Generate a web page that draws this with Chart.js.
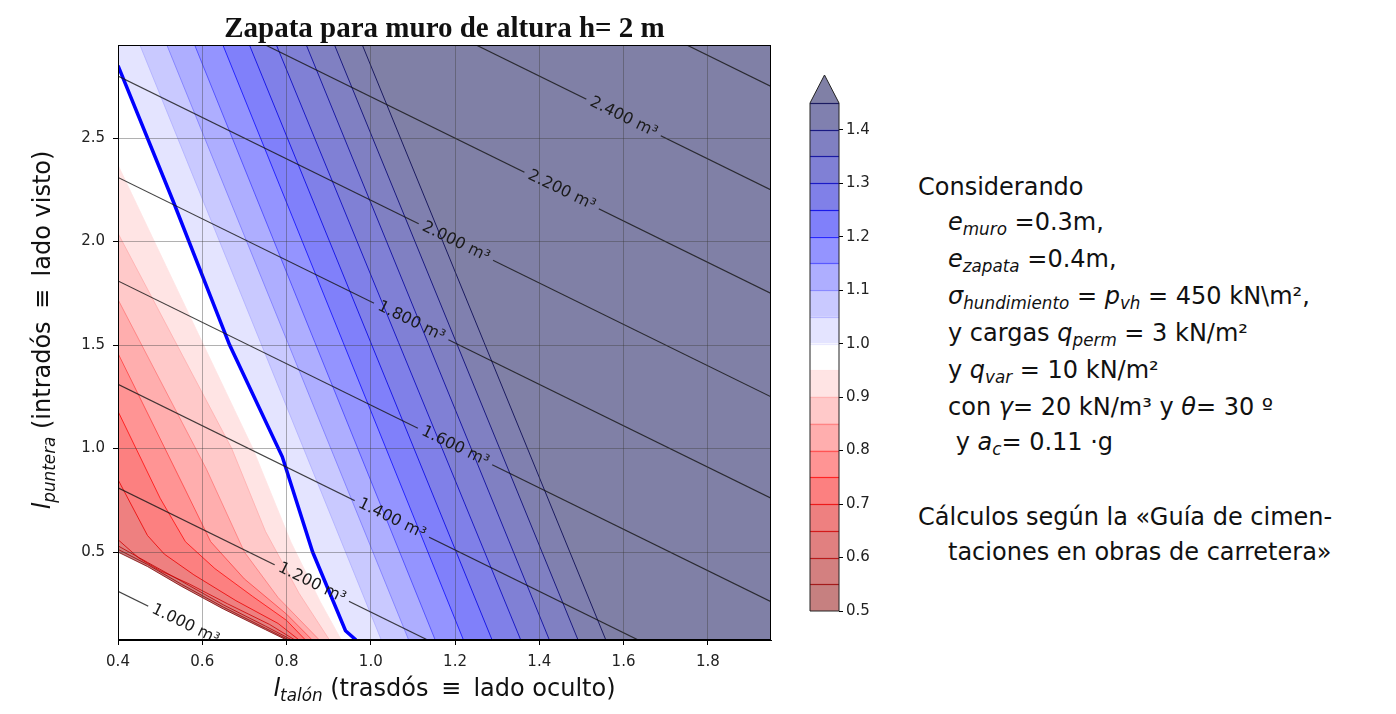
<!DOCTYPE html>
<html lang="es">
<head>
<meta charset="utf-8">
<title>Zapata para muro de altura h= 2 m</title>
<script src="https://cdn.jsdelivr.net/npm/chart.js@4.4.1/dist/chart.umd.min.js"></script>
<style>
  body { margin: 0; background: #fff; }
  #lienzo { position: relative; width: 1396px; height: 714px; overflow: hidden; font-family: 'DejaVu Sans', sans-serif; color: #111; }
  canvas { position: absolute; }
  .titulo { position: absolute; left: 118px; width: 653px; top: 13px; text-align: center; font: bold 29px 'Liberation Serif', serif; line-height: 29px; }
  .ejeX { position: absolute; left: 118px; width: 653px; top: 676px; text-align: center; font-size: 24px; line-height: 24px; }
  .ejeY { position: absolute; left: -208px; top: 315px; width: 500px; height: 30px; line-height: 30px; text-align: center; font-size: 24px; transform: rotate(-90deg); }
  .sub { font-size: 0.7em; font-style: italic; position: relative; top: 0.3em; }
  .eq { margin: 0 0.2em; }
  .nota { position: absolute; left: 918px; top: 170px; font-size: 24px; line-height: 35px; white-space: nowrap; }
  .sangria { padding-left: 30px; }
</style>
</head>
<body>
<div id="lienzo">
  <canvas id="grafico" width="800" height="714" style="left:0;top:0"></canvas>
  <canvas id="barra" width="100" height="590" style="left:790px;top:50px"></canvas>
  <div class="titulo">Zapata para muro de altura h= 2 m</div>
  <div class="ejeX"><i>l</i><span class="sub">talón</span> (trasdós <span class="eq">≡</span> lado oculto)</div>
  <div class="ejeY"><i>l</i><span class="sub">puntera</span> (intradós <span class="eq">≡</span> lado visto)</div>
  <div class="nota">
    <div>Considerando</div>
    <div class="sangria"><i>e</i><span class="sub">muro</span> =0.3m,</div>
    <div class="sangria"><i>e</i><span class="sub">zapata</span> =0.4m,</div>
    <div class="sangria"><i>σ</i><span class="sub">hundimiento</span> = <i>p</i><span class="sub">vh</span> = 450 kN\m²,</div>
    <div class="sangria">y cargas <i>q</i><span class="sub">perm</span> = 3 kN/m²</div>
    <div class="sangria">y <i>q</i><span class="sub">var</span> = 10 kN/m²</div>
    <div class="sangria">con <i>γ</i>= 20 kN/m³ y <i>θ</i>= 30 º</div>
    <div class="sangria">&nbsp;y <i>a</i><span class="sub">c</span>= 0.11 ·g</div>
    <div style="margin-top:38px">Cálculos según la «Guía de cimen-</div>
    <div class="sangria">taciones en obras de carretera»</div>
  </div>
</div>
<script>
// Límites de los ejes (talón en x, puntera en y)
const limX = [0.4, 1.95];
const limY = [0.075, 2.95];
const ticksX = [0.4, 0.6, 0.8, 1.0, 1.2, 1.4, 1.6, 1.8];
const ticksY = [0.5, 1.0, 1.5, 2.0, 2.5];
const ticksBarra = [0.5, 0.6, 0.7, 0.8, 0.9, 1.0, 1.1, 1.2, 1.3, 1.4];

// Niveles del coeficiente (contourf) y sus curvas, [talón, puntera]
const niveles = [0.5, 0.55, 0.6, 0.65, 0.7, 0.75, 0.8, 0.85, 0.9, 0.95, 1.0, 1.05, 1.1, 1.15, 1.2, 1.25, 1.3, 1.35, 1.4, 1.45];
const curvasNivel = [
    [[0.4, 0.5], [0.47, 0.43], [0.55, 0.335], [0.65, 0.225], [0.75, 0.125], [0.8, 0.075]],
    [[0.4, 0.513], [0.47, 0.44], [0.55, 0.345], [0.65, 0.234], [0.75, 0.132], [0.806, 0.075]],
    [[0.4, 0.53], [0.47, 0.45], [0.55, 0.36], [0.65, 0.245], [0.75, 0.142], [0.813, 0.075]],
    [[0.4, 0.56], [0.45, 0.47], [0.5, 0.41], [0.57, 0.345], [0.66, 0.25], [0.76, 0.15], [0.82, 0.075]],
    [[0.4, 0.85], [0.47, 0.58], [0.51, 0.49], [0.58, 0.39], [0.68, 0.265], [0.78, 0.155], [0.83, 0.075]],
    [[0.4, 1.18], [0.5, 0.76], [0.56, 0.55], [0.63, 0.42], [0.72, 0.285], [0.8, 0.17], [0.845, 0.075]],
    [[0.4, 1.46], [0.56, 0.8], [0.62, 0.55], [0.7, 0.37], [0.8, 0.2], [0.861, 0.075]],
    [[0.4, 1.72], [0.61, 0.9], [0.7, 0.5], [0.78, 0.28], [0.878, 0.075]],
    [[0.4, 2.04], [0.67, 1.0], [0.75, 0.6], [0.83, 0.3], [0.902, 0.075]],
    [[0.4, 2.37], [0.72, 1.0], [0.81, 0.55], [0.88, 0.26], [0.93, 0.075]],
    [[0.4, 2.85], [0.53, 2.2], [0.665, 1.5], [0.79, 0.96], [0.862, 0.5], [0.94, 0.12], [0.965, 0.075]],
    [[0.452, 2.95], [1.025, 0.075]],
    [[0.516, 2.95], [1.09, 0.075]],
    [[0.582, 2.95], [1.153, 0.075]],
    [[0.649, 2.95], [1.22, 0.075]],
    [[0.712, 2.95], [1.288, 0.075]],
    [[0.776, 2.95], [1.356, 0.075]],
    [[0.847, 2.95], [1.424, 0.075]],
    [[0.914, 2.95], [1.492, 0.075]],
    [[0.98, 2.95], [1.558, 0.075]]
];

// Líneas de volumen de hormigón (m³) y posición de sus etiquetas
const volumenes = ['1.000 m³', '1.200 m³', '1.400 m³', '1.600 m³', '1.800 m³', '2.000 m³', '2.200 m³', '2.400 m³', ''];
const lineasVolumen = [
    [[0.4, 0.31], [0.635, 0.075]],
    [[0.4, 0.81], [1.135, 0.075]],
    [[0.4, 1.31], [1.635, 0.075]],
    [[0.4, 1.81], [1.95, 0.26]],
    [[0.4, 2.31], [1.95, 0.76]],
    [[0.4, 2.80], [1.95, 1.25]],
    [[0.75, 2.95], [1.95, 1.75]],
    [[1.25, 2.95], [1.95, 2.25]],
    [[1.75, 2.95], [1.95, 2.75]]
];
const etiquetaX = [0.56, 0.86, 1.05, 1.20, 1.096, 1.202, 1.453, 1.60, null];

// Mapa de color seismic_r con alfa 0.5 sobre blanco
function seismicR(t) {
    const s = 1 - Math.min(Math.max(t, 0), 1);
    const p = [0, 0.25, 0.5, 0.75, 1];
    const c = [[0, 0, 0.3], [0, 0, 1], [1, 1, 1], [1, 0, 0], [0.5, 0, 0]];
    let k = 0;
    while (k < 3 && s > p[k + 1]) k++;
    const f = (s - p[k]) / (p[k + 1] - p[k]);
    return c[k].map((v, j) => v + (c[k + 1][j] - v) * f);
}
const vmin = niveles[0], vmax = niveles[niveles.length - 1];
const norma = v => (v - vmin) / (vmax - vmin);
const colorRelleno = t => 'rgb(' + seismicR(t).map(v => Math.round(255 * (0.5 + 0.5 * v))).join(',') + ')';
const colorLinea = t => 'rgba(' + seismicR(t).map(v => Math.round(255 * v)).join(',') + ',0.8)';
const colorBanda = i => i < niveles.length - 1 ? colorRelleno(norma((niveles[i] + niveles[i + 1]) / 2)) : colorRelleno(1);

const aPuntos = arr => arr.map(p => ({x: p[0], y: p[1]}));

// Datasets: bandas rellenas (pintadas de menor a mayor), curvas de nivel, línea 1.0 y volúmenes
const datasets = [];
curvasNivel.forEach((curva, i) => {
    datasets.push({
        data: [{x: limX[0], y: limY[1]}, ...aPuntos(curva), {x: limX[1], y: limY[0]}, {x: limX[1], y: limY[1]}],
        fill: 'shape',
        backgroundColor: colorBanda(i),
        borderColor: 'transparent',
        borderWidth: 1,
        pointRadius: 0,
        order: 1000 - i
    });
});
curvasNivel.forEach((curva, i) => {
    const esUno = niveles[i] === 1.0;
    datasets.push({
        data: aPuntos(curva),
        fill: false,
        borderColor: esUno ? '#0000ff' : colorLinea(norma(niveles[i])),
        borderWidth: esUno ? 3.5 : 1,
        pointRadius: 0,
        order: esUno ? 50 : 500 - i
    });
});
lineasVolumen.forEach((linea, i) => {
    datasets.push({
        data: aPuntos(linea),
        fill: false,
        borderColor: 'rgba(20,20,20,0.8)',
        borderWidth: 1.2,
        pointRadius: 0,
        order: 10,
        volumen: i
    });
});

const fuenteEtiqueta = '16px "DejaVu Sans"';

// Posición y giro de cada etiqueta de volumen en píxeles
function etiquetasPx(chart) {
    const xs = chart.scales.x, ys = chart.scales.y;
    const ctx = chart.ctx;
    ctx.font = fuenteEtiqueta;
    return lineasVolumen.map((linea, i) => {
        if (etiquetaX[i] === null) return null;
        const [p0, p1] = linea;
        const yv = p0[1] + (etiquetaX[i] - p0[0]) * (p1[1] - p0[1]) / (p1[0] - p0[0]);
        const a0 = [xs.getPixelForValue(p0[0]), ys.getPixelForValue(p0[1])];
        const a1 = [xs.getPixelForValue(p1[0]), ys.getPixelForValue(p1[1])];
        return {
            cx: xs.getPixelForValue(etiquetaX[i]),
            cy: ys.getPixelForValue(yv),
            ang: Math.atan2(a1[1] - a0[1], a1[0] - a0[0]),
            ancho: ctx.measureText(volumenes[i]).width,
            texto: volumenes[i]
        };
    });
}

const pluginEtiquetas = {
    id: 'etiquetasVolumen',
    beforeDatasetDraw(chart, args) {
        const ds = chart.data.datasets[args.index];
        if (ds.volumen === undefined) return;
        const et = etiquetasPx(chart)[ds.volumen];
        const ctx = chart.ctx;
        const a = chart.chartArea;
        ctx.save();
        ctx.beginPath();
        ctx.rect(a.left, a.top, a.right - a.left, a.bottom - a.top);
        if (et) {
            const hw = et.ancho / 2 + 5, hh = 9;
            const c = Math.cos(et.ang), s = Math.sin(et.ang);
            const esquinas = [[-hw, -hh], [hw, -hh], [hw, hh], [-hw, hh]].map(([u, v]) => [et.cx + u * c - v * s, et.cy + u * s + v * c]);
            ctx.moveTo(esquinas[0][0], esquinas[0][1]);
            esquinas.slice(1).forEach(e => ctx.lineTo(e[0], e[1]));
            ctx.closePath();
        }
        ctx.clip('evenodd');
    },
    afterDatasetDraw(chart, args) {
        const ds = chart.data.datasets[args.index];
        if (ds.volumen === undefined) return;
        chart.ctx.restore();
    },
    afterDraw(chart) {
        const ctx = chart.ctx;
        const a = chart.chartArea;
        etiquetasPx(chart).forEach(et => {
            if (!et) return;
            ctx.save();
            ctx.translate(et.cx, et.cy);
            ctx.rotate(et.ang);
            ctx.font = fuenteEtiqueta;
            ctx.fillStyle = '#1a1a1a';
            ctx.textAlign = 'center';
            ctx.textBaseline = 'middle';
            ctx.fillText(et.texto, 0, 0);
            ctx.restore();
        });
        ctx.save();
        ctx.strokeStyle = '#000';
        ctx.lineWidth = 1;
        ctx.strokeRect(Math.round(a.left) + 0.5, Math.round(a.top) + 0.5, Math.round(a.right - a.left) - 1, Math.round(a.bottom - a.top) - 1);
        ctx.restore();
    }
};

const fuenteTicks = {family: 'DejaVu Sans', size: 15};

new Chart(document.getElementById('grafico'), {
    type: 'line',
    data: {datasets},
    options: {
        responsive: false,
        animation: false,
        layout: {padding: {left: 0, top: 45, right: 29, bottom: 44}},
        plugins: {legend: {display: false}, tooltip: {enabled: false}},
        elements: {line: {tension: 0}, point: {radius: 0}},
        scales: {
            x: {
                type: 'linear', min: limX[0], max: limX[1],
                afterBuildTicks: s => { s.ticks = ticksX.map(v => ({value: v})); },
                afterFit: s => { s.height = 30; },
                ticks: {font: fuenteTicks, color: '#222', padding: 8, maxRotation: 0, callback: v => Number(v).toFixed(1)},
                grid: {z: 1, color: 'rgba(60,60,60,0.4)', tickColor: '#000', tickLength: 5},
                border: {color: '#000', width: 1, z: 2}
            },
            y: {
                type: 'linear', min: limY[0], max: limY[1],
                afterBuildTicks: s => { s.ticks = ticksY.map(v => ({value: v})); },
                afterFit: s => { s.width = 118; },
                ticks: {font: fuenteTicks, color: '#222', padding: 8, callback: v => Number(v).toFixed(1)},
                grid: {z: 1, color: 'rgba(60,60,60,0.4)', tickColor: '#000', tickLength: 5},
                border: {color: '#000', width: 1, z: 2}
            }
        }
    },
    plugins: [pluginEtiquetas]
});

// Barra de color con extensión superior
const pluginBarra = {
    id: 'extensionBarra',
    afterDatasetsDraw(chart) {
        const ctx = chart.ctx;
        const a = chart.chartArea;
        const ys = chart.scales.y;
        const yTop = ys.getPixelForValue(vmax);
        const yBot = ys.getPixelForValue(vmin);
        const punta = yTop - 28;
        const xm = (a.left + a.right) / 2;
        ctx.save();
        ctx.fillStyle = colorRelleno(1);
        ctx.beginPath();
        ctx.moveTo(a.left, yTop);
        ctx.lineTo(xm, punta);
        ctx.lineTo(a.right, yTop);
        ctx.closePath();
        ctx.fill();
        niveles.slice(1).forEach(v => {
            const y = Math.round(ys.getPixelForValue(v)) + 0.5;
            ctx.strokeStyle = colorLinea(norma(v));
            ctx.lineWidth = 1.2;
            ctx.beginPath();
            ctx.moveTo(a.left, y);
            ctx.lineTo(a.right, y);
            ctx.stroke();
        });
        ctx.strokeStyle = '#222';
        ctx.lineWidth = 1;
        ctx.beginPath();
        ctx.moveTo(a.left, yBot);
        ctx.lineTo(a.right, yBot);
        ctx.lineTo(a.right, yTop);
        ctx.lineTo(xm, punta);
        ctx.lineTo(a.left, yTop);
        ctx.closePath();
        ctx.stroke();
        ctx.restore();
    }
};

new Chart(document.getElementById('barra'), {
    type: 'bar',
    data: {
        labels: [''],
        datasets: niveles.slice(0, -1).map((v, i) => ({
            data: [[v, niveles[i + 1]]],
            backgroundColor: colorBanda(i),
            borderWidth: 0,
            grouped: false,
            barPercentage: 1,
            categoryPercentage: 1
        }))
    },
    options: {
        responsive: false,
        animation: false,
        layout: {padding: {left: 20, top: 53, right: 0, bottom: 29}},
        plugins: {legend: {display: false}, tooltip: {enabled: false}},
        scales: {
            x: {display: false},
            y: {
                position: 'right', min: vmin, max: vmax,
                afterBuildTicks: s => { s.ticks = ticksBarra.map(v => ({value: v})); },
                afterFit: s => { s.width = 51; },
                ticks: {font: fuenteTicks, color: '#222', padding: 3, callback: v => Number(v).toFixed(1)},
                grid: {drawOnChartArea: false, drawTicks: true, tickLength: 4, tickColor: '#000'},
                border: {display: false}
            }
        }
    },
    plugins: [pluginBarra]
});
</script>
</body>
</html>
